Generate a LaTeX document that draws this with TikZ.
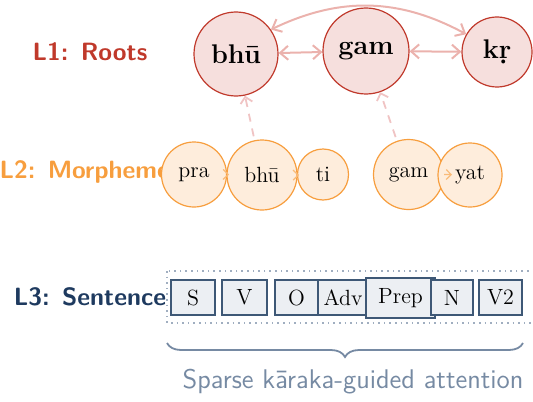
\documentclass[tikz,border=0pt]{standalone}
\usepackage{fontspec}
\usepackage{xcolor}
\usetikzlibrary{arrows.meta,decorations.pathreplacing}

\definecolor{rootred}{RGB}{192,57,43}
\definecolor{rootfill}{RGB}{246,223,221}
\definecolor{rootlink}{RGB}{235,178,173}
\definecolor{morphorange}{RGB}{247,158,62}
\definecolor{morphfill}{RGB}{254,237,220}
\definecolor{uplink}{RGB}{240,196,196}
\definecolor{sentblue}{RGB}{30,58,95}
\definecolor{tokedge}{RGB}{62,88,118}
\definecolor{tokfill}{RGB}{236,239,243}
\definecolor{dotgray}{RGB}{160,174,192}
\definecolor{capgray}{RGB}{118,138,163}

\begin{document}
\begin{tikzpicture}[x=0.5pt, y=-0.5pt,
  lvl/.style={font=\sffamily\bfseries\fontsize{12.5}{15}\selectfont},
  root/.style={circle, draw=rootred, fill=rootfill, line width=0.6pt, inner sep=0pt,
    font=\bfseries\fontsize{13.5}{16}\selectfont},
  morph/.style={circle, draw=morphorange, fill=morphfill, line width=0.6pt, inner sep=0pt,
    font=\fontsize{11}{13}\selectfont},
  tok/.style={rectangle, draw=tokedge, fill=tokfill, line width=0.7pt, inner sep=0pt,
    minimum width=22pt, minimum height=17.5pt, font=\fontsize{11}{13}\selectfont},
  rlink/.style={rootlink, line width=1pt, {Straight Barb[length=4pt,width=7pt]}-{Straight Barb[length=4pt,width=7pt]}},
  mlink/.style={morphorange!70, line width=0.6pt, -{Straight Barb[length=2.5pt,width=5pt]}},
  ulink/.style={uplink, line width=0.9pt, dash pattern=on 4pt off 3.5pt, shorten <=2pt,
    -{Straight Barb[length=3pt,width=6pt]}}]
\clip (0,0) rectangle (533,401);

% level labels
\node[lvl, text=rootred] (l1) at (90,52) {L1: Roots};
\node[lvl, text=morphorange] (l2) at (90,172) {L2: Morphemes};
\node[lvl, text=sentblue] (l3) at (90,297) {L3: Sentence};

% roots
\node[root, minimum size=42pt] (rbhu) at (236,54) {bhū};
\node[root, minimum size=43pt] (rgam) at (366,51) {gam};
\node[root, minimum size=35pt] (rkr) at (497,52) {kṛ};

\draw[rlink] (rbhu) -- (rgam);
\draw[rlink] (rgam) -- (rkr);
\draw[rlink] (rbhu.35) to[bend left=27] (rkr.150);

% morphemes
\node[morph, minimum size=32.5pt] (pra) at (194,174.5) {pra};
\node[morph, minimum size=35pt] (mbhu) at (262,175) {bhū};
\node[morph, minimum size=25.5pt] (ti) at (323,174.5) {ti};
\node[morph, minimum size=35pt] (mgam) at (408.5,174.5) {gam};
\node[morph, minimum size=32pt] (yat) at (470,175) {yat};

\draw[mlink, shorten >=16.5pt] (pra.east) -- (mbhu.center);
\draw[mlink, shorten >=12pt] (mbhu.east) -- (ti.center);
\draw[mlink, shorten >=9pt] (mgam.east) -- (yat.center);

\draw[ulink] (mbhu) -- (rbhu);
\draw[ulink] (mgam) -- (rgam);

% sentence tokens
\draw[dotgray, line width=0.8pt, dotted] (167,271) rectangle (545,323);
\node[tok] (s) at (193,297.5) {S};
\node[tok, minimum width=22.5pt] (v) at (244.5,297.5) {V};
\node[tok, minimum width=21.5pt] (o) at (296.5,297.5) {O};
\node[tok, minimum width=25pt] (adv) at (343,297.5) {Adv};
\node[tok, minimum width=34.5pt, minimum height=20pt] (prep) at (400.5,298) {Prep};
\node[tok, minimum width=21pt] (n) at (452,297.5) {N};
\node[tok, minimum width=21.5pt] (v2) at (500.5,297.5) {V2};

% brace and caption
\coordinate (bl) at (167,343);
\coordinate (br) at (523,343);
\draw[capgray, line width=0.9pt, decorate, decoration={brace, mirror, amplitude=7pt}] (bl) -- (br);
\node[font=\sffamily\fontsize{13.5}{16}\selectfont, text=capgray] (cap) at (353,382) {Sparse kāraka-guided attention};
\end{tikzpicture}
\end{document}
